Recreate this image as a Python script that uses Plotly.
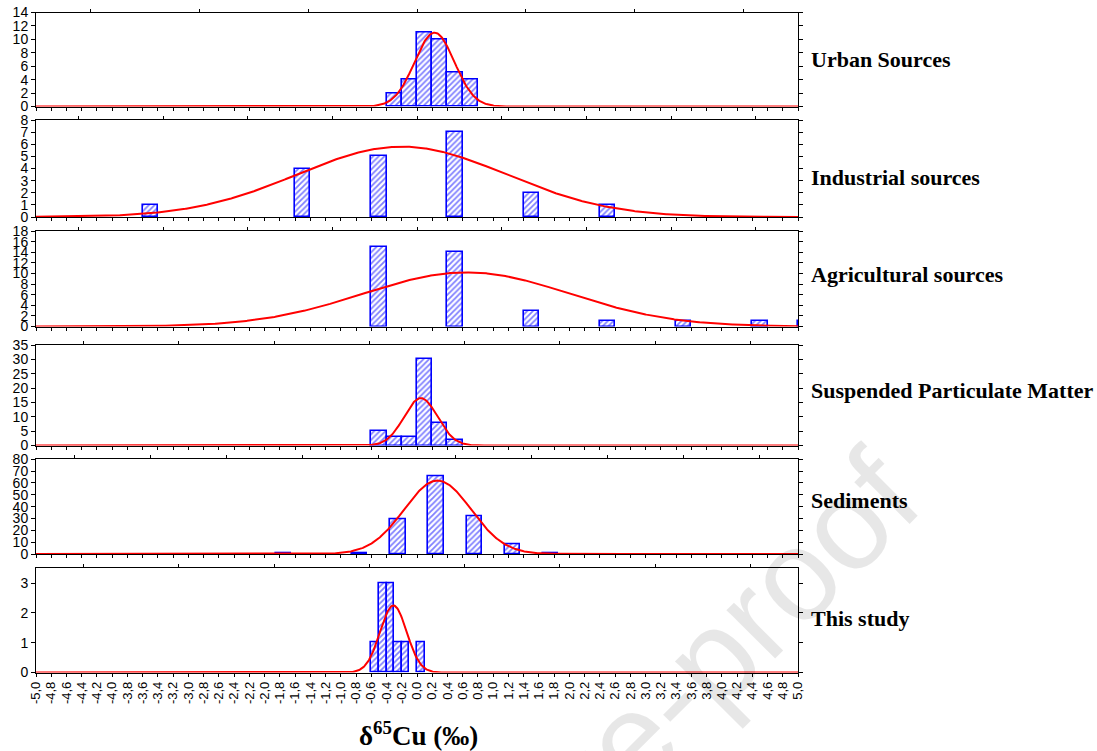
import numpy as np
import plotly.graph_objects as go

# ---------------- data ----------------
panel_names = ["Urban Sources", "Industrial sources", "Agricultural sources",
               "Suspended Particulate Matter", "Sediments", "This study"]

urban_x = [-0.3, -0.1, 0.1, 0.3, 0.5, 0.7]
urban_n = [2, 4, 11, 10, 5, 4]

industrial_x = [-3.5, -1.5, -0.5, 0.5, 1.5, 2.5]
industrial_n = [1, 4, 5, 7, 2, 1]

agri_x = [-0.5, 0.5, 1.5, 2.5, 3.5, 4.5, 5.1]
agri_n = [15, 14, 3, 1, 1, 1, 1]

spm_x = [-0.5, -0.3, -0.1, 0.1, 0.3, 0.5]
spm_n = [5, 3, 3, 30, 8, 2]

sed_x = [-1.75, -0.75, -0.25, 0.25, 0.75, 1.25, 1.75]
sed_n = [1, 1, 29, 66, 32, 8, 1]

study_x = [-0.55, -0.45, -0.35, -0.25, -0.15, 0.05]
study_n = [1, 3, 3, 1, 1, 1]

bar_widths = [0.2, 0.2, 0.2, 0.2, 0.2, 0.1]

# fitted normal curves: centre, spread, peak height
fit_mean = [0.23, -0.2, 0.65, 0.05, 0.27, -0.31]
fit_sd = [0.26, 1.37, 1.355, 0.22, 0.44, 0.175]
fit_peak = [11.0, 5.8, 10.2, 16.5, 62.0, 2.25]

y_max = [14, 8, 18, 35, 80, 3.5]
y_step = [2, 1, 2, 5, 10, 1]
top_tick_divisions = [7, 9, 9, 8, 10, 8]

x_tick_vals = [round(-5 + 0.2 * k, 1) for k in range(51)]
x_tick_labels = [f"{v:.1f}".replace(".", ",") for v in x_tick_vals]

series_x = [urban_x, industrial_x, agri_x, spm_x, sed_x, study_x]
series_n = [urban_n, industrial_n, agri_n, spm_n, sed_n, study_n]

# ---------------- layout geometry ----------------
W, H = 1097, 751
LEFT, RIGHT = 36, 798
panel_px = [(12.5, 106.5), (120, 217), (231, 326.5), (345, 445.5), (459.3, 554), (568.3, 672.5)]
label_px = [60, 177, 274, 390, 500, 618]

TICKFONT = dict(family="Liberation Sans Narrow, Arial Narrow, Liberation Sans, Arial", size=14, color="black")
LABELFONT = dict(family="Liberation Serif, Times New Roman, serif", size=22, color="black")

fig = go.Figure()
layout = dict(width=W, height=H,
              margin=dict(l=LEFT, r=W - RIGHT, t=0, b=0, pad=0, autoexpand=False),
              paper_bgcolor="white", plot_bgcolor="white", showlegend=False, bargap=0)

annotations = [
    dict(text="Journal Pre-proof", xref="paper", yref="paper",
         x=(540 - LEFT) / (RIGHT - LEFT), y=1 - 830 / H, showarrow=False,
         textangle=-45, font=dict(family="Liberation Sans, Arial", size=130, color="rgba(0,0,0,0.095)"),
         xanchor="center", yanchor="middle"),
]

xs = np.linspace(-5, 5, 1001)
for i in range(6):
    n = i + 1
    xa = "x" if n == 1 else f"x{n}"
    ya = "y" if n == 1 else f"y{n}"
    fig.add_trace(go.Bar(
        x=series_x[i], y=series_n[i], width=bar_widths[i], xaxis=xa, yaxis=ya,
        marker=dict(color="white", line=dict(color="#0000ff", width=1.6),
                    pattern=dict(shape="/", fgcolor="#0000ff", bgcolor="white", size=4, solidity=0.45)),
        hoverinfo="skip"))
    ys = fit_peak[i] * np.exp(-(xs - fit_mean[i]) ** 2 / (2 * fit_sd[i] ** 2))
    fig.add_trace(go.Scatter(x=xs, y=ys, mode="lines", line=dict(color="#ff0000", width=2),
                             xaxis=xa, yaxis=ya, hoverinfo="skip"))
    top, bot = panel_px[i]
    dom = [1 - bot / H, 1 - top / H]
    layout[f"xaxis{n}"] = dict(
        domain=[0, 1], range=[-5, 5], anchor=ya, tickmode="array",
        tickvals=x_tick_vals, ticktext=x_tick_labels, showticklabels=(i == 5),
        ticks="outside", ticklen=3, tickcolor="black", tickwidth=1,
        showline=True, linecolor="black", linewidth=1, mirror=True,
        showgrid=False, zeroline=False, tickangle=-90, automargin=False,
        tickfont=dict(TICKFONT, size=13), fixedrange=True)
    layout[f"yaxis{n}"] = dict(
        domain=dom, range=[0, y_max[i]], anchor=xa, tickmode="linear", tick0=0, dtick=y_step[i],
        ticks="outside", ticklen=4, tickcolor="black", showline=True, linecolor="black",
        linewidth=1, mirror="ticks", showgrid=False, zeroline=False, tickfont=TICKFONT,
        automargin=False, fixedrange=True)
    # top ticks (mirrored category ticks of the original software)
    m = n + 6
    step = 10 / top_tick_divisions[i]
    top_vals = [-5 + (k + 0.5) * step for k in range(top_tick_divisions[i])]
    layout[f"xaxis{m}"] = dict(
        overlaying=xa, side="top", anchor=ya, range=[-5, 5], tickmode="array",
        tickvals=top_vals, showticklabels=False, ticks="outside", ticklen=3,
        tickcolor="black", showline=False, showgrid=False, zeroline=False, fixedrange=True)
    fig.add_trace(go.Scatter(x=[None], y=[None], xaxis=f"x{m}", yaxis=ya, mode="lines",
                             hoverinfo="skip"))
    annotations.append(dict(
        text=f"<b>{panel_names[i]}</b>", xref="paper", yref="paper",
        x=(809 - LEFT) / (RIGHT - LEFT), y=1 - label_px[i] / H, xanchor="left",
        yanchor="middle", showarrow=False, font=LABELFONT))

annotations.append(dict(
    text="<b>δ<sup>65</sup>Cu (‰)</b>", xref="paper", yref="paper",
    x=(418 - LEFT) / (RIGHT - LEFT), y=1 - 734 / H, xanchor="center", yanchor="middle",
    showarrow=False, font=dict(family="Liberation Serif, Times New Roman, serif", size=27, color="black")))

layout["annotations"] = annotations
fig.update_layout(**layout)
fig.write_html("out.html")
